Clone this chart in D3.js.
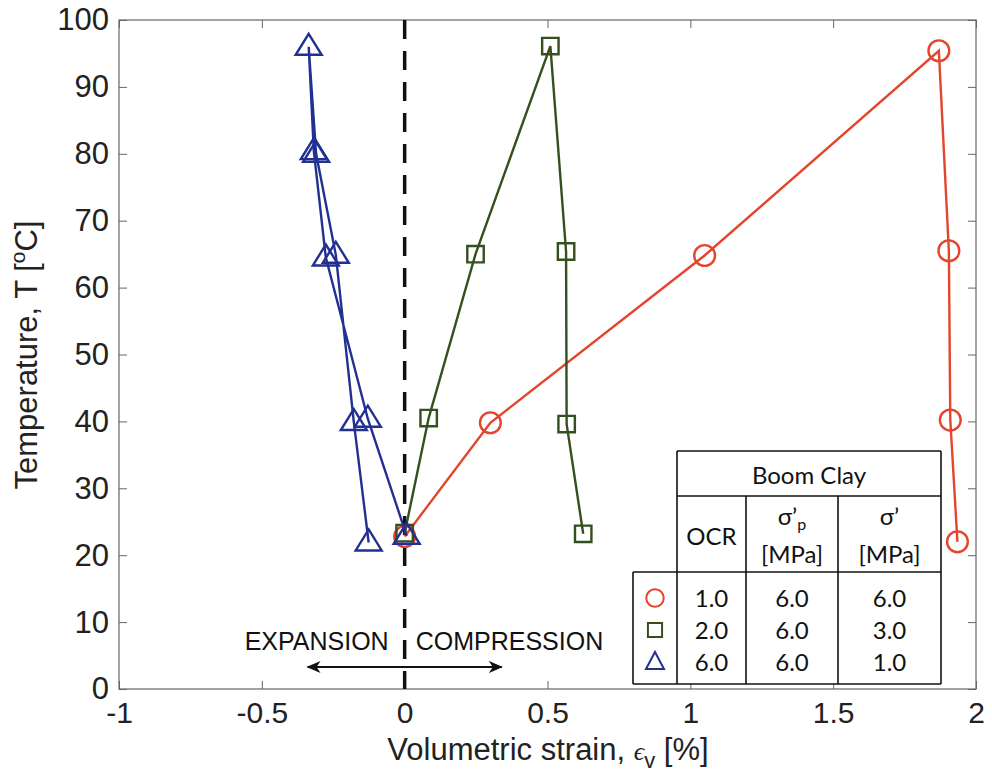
<!DOCTYPE html>
<html lang="en">
<head>
  <meta charset="UTF-8" />
  <title>Boom Clay thermal volumetric strain</title>
  <script src="https://d3js.org/d3.v7.min.js"></script>
  <style>
    body {
      background-color: white;
      margin: 0;
      font-family: "Liberation Sans", Arial, sans-serif;
    }

    svg {
      display: block;
    }

    .tick text {
      font-size: 30px;
      fill: #222;
      font-family: "Liberation Sans", Arial, sans-serif;
    }

    .tick line {
      stroke: #666;
    }

    .table text {
      font-family: Lato, "Open Sans", sans-serif;
      font-size: 24px;
      fill: #111;
    }
  </style>
</head>
<body>
  <svg></svg>

  <script>
    // OCR = 1.0 (red circles)
    const ocr1Strain = [0.0, 0.30, 1.05, 1.87, 1.905, 1.91, 1.935];
    const ocr1Temp   = [22.8, 39.8, 64.8, 95.4, 65.5, 40.2, 22.0];

    // OCR = 2.0 (green squares)
    const ocr2Strain = [0.0, 0.084, 0.248, 0.51, 0.565, 0.567, 0.625];
    const ocr2Temp   = [23.3, 40.5, 65.0, 96.1, 65.4, 39.6, 23.2];

    // OCR = 6.0 (blue triangles)
    const ocr6Strain = [0.007, -0.129, -0.276, -0.318, -0.336, -0.31, -0.241, -0.178, -0.126];
    const ocr6Temp   = [22.9, 40.4, 64.5, 80.4, 96.0, 80.0, 64.9, 39.9, 21.9];

    const xTicks = [-1, -0.5, 0, 0.5, 1, 1.5, 2];
    const yTicks = [0, 10, 20, 30, 40, 50, 60, 70, 80, 90, 100];

    // legend table
    const ocrValues = ["1.0", "2.0", "6.0"];
    const preconValues = ["6.0", "6.0", "6.0"];
    const stressValues = ["6.0", "3.0", "1.0"];

    const width = 992;
    const height = 777;
    const margin = {left: 119, top: 20, right: 16, bottom: 88};

    const svg = d3.select("svg")
      .attr("width", width)
      .attr("height", height);

    const x = d3.scaleLinear().domain([-1, 2]).range([margin.left, width - margin.right]);
    const y = d3.scaleLinear().domain([0, 100]).range([height - margin.bottom, margin.top]);

    // axes (inward ticks, box on all sides)
    svg.append("g")
      .attr("transform", `translate(0,${y(0)})`)
      .call(d3.axisBottom(x).tickValues(xTicks).tickSizeInner(-8).tickSizeOuter(0)
        .tickPadding(13).tickFormat(d => String(d)))
      .call(g => g.select(".domain").remove());

    svg.append("g")
      .attr("transform", `translate(${x(-1)},0)`)
      .call(d3.axisLeft(y).tickValues(yTicks).tickSizeInner(-8).tickSizeOuter(0)
        .tickPadding(10).tickFormat(d => String(d)))
      .call(g => g.select(".domain").remove())
      .selectAll(".tick text").style("font-size", "31px");

    svg.append("g")
      .attr("transform", `translate(0,${y(100)})`)
      .call(d3.axisTop(x).tickValues(xTicks).tickSizeInner(-8).tickSizeOuter(0).tickFormat(""))
      .call(g => g.select(".domain").remove());

    svg.append("g")
      .attr("transform", `translate(${x(2)},0)`)
      .call(d3.axisRight(y).tickValues(yTicks).tickSizeInner(-8).tickSizeOuter(0).tickFormat(""))
      .call(g => g.select(".domain").remove());

    svg.append("rect")
      .attr("x", x(-1))
      .attr("y", y(100))
      .attr("width", x(2) - x(-1))
      .attr("height", y(0) - y(100))
      .attr("fill", "none")
      .attr("stroke", "#666")
      .attr("stroke-width", 1.2);

    // axis titles
    const xTitle = svg.append("text")
      .attr("x", 548)
      .attr("y", 760)
      .attr("text-anchor", "middle")
      .attr("font-size", 31)
      .attr("fill", "#222");
    xTitle.append("tspan").text("Volumetric strain, ");
    xTitle.append("tspan")
      .attr("font-family", "'Liberation Serif', serif")
      .attr("font-style", "italic")
      .attr("font-size", 26)
      .text("\u03F5");
    xTitle.append("tspan")
      .attr("font-size", 22)
      .attr("dy", 8)
      .text("v");
    xTitle.append("tspan")
      .attr("dy", -8)
      .text(" [%]");

    const yTitle = svg.append("text")
      .attr("transform", `translate(37,${355}) rotate(-90)`)
      .attr("text-anchor", "middle")
      .attr("font-size", 31)
      .attr("fill", "#222");
    yTitle.append("tspan").text("Temperature, T [");
    yTitle.append("tspan")
      .attr("font-size", 21)
      .attr("dy", -12)
      .text("o");
    yTitle.append("tspan")
      .attr("dy", 12)
      .text("C]");

    // zero strain dashed line
    svg.append("line")
      .attr("x1", x(0)).attr("x2", x(0))
      .attr("y1", y(100)).attr("y2", y(0))
      .attr("stroke", "#111")
      .attr("stroke-width", 3.5)
      .attr("stroke-dasharray", "19,12");

    // expansion / compression annotation
    svg.append("text")
      .attr("x", x(0) - 16)
      .attr("y", 650)
      .attr("text-anchor", "end")
      .attr("font-size", 25)
      .attr("fill", "#111")
      .text("EXPANSION");

    svg.append("text")
      .attr("x", x(0) + 11)
      .attr("y", 650)
      .attr("text-anchor", "start")
      .attr("font-size", 25)
      .attr("fill", "#111")
      .text("COMPRESSION");

    const defs = svg.append("defs");
    defs.append("marker")
      .attr("id", "arrow")
      .attr("viewBox", "0 -6 14 12")
      .attr("refX", 13)
      .attr("refY", 0)
      .attr("markerWidth", 14)
      .attr("markerHeight", 12)
      .attr("markerUnits", "userSpaceOnUse")
      .attr("orient", "auto-start-reverse")
      .append("path")
      .attr("d", "M0,-6 L14,0 L0,6 L4,0 Z")
      .attr("fill", "#111");

    svg.append("line")
      .attr("x1", x(-0.34)).attr("x2", x(0.34))
      .attr("y1", 667).attr("y2", 667)
      .attr("stroke", "#111")
      .attr("stroke-width", 1.8)
      .attr("marker-start", "url(#arrow)")
      .attr("marker-end", "url(#arrow)");

    // series
    const series = [
      {strain: ocr1Strain, temp: ocr1Temp, color: "#e3452d", shape: "circle"},
      {strain: ocr2Strain, temp: ocr2Temp, color: "#34501e", shape: "square"},
      {strain: ocr6Strain, temp: ocr6Temp, color: "#223092", shape: "triangle"}
    ];

    const symbolPath = {
      circle: d3.symbol(d3.symbolCircle, 340)(),
      square: d3.symbol(d3.symbolSquare, 270)(),
      triangle: "M0,-13 L13,8 L-13,8 Z"
    };

    const line = d3.line()
      .x(d => x(d[0]))
      .y(d => y(d[1]));

    series.forEach(s => {
      const pts = s.strain.map((v, i) => [v, s.temp[i]]);
      const g = svg.append("g");

      g.append("path")
        .datum(pts)
        .attr("d", line)
        .attr("fill", "none")
        .attr("stroke", s.color)
        .attr("stroke-width", 2.4);

      g.selectAll("path.mark")
        .data(pts)
        .enter().append("path")
        .attr("class", "mark")
        .attr("d", symbolPath[s.shape])
        .attr("transform", d => `translate(${x(d[0])},${y(d[1])})`)
        .attr("fill", "none")
        .attr("stroke", s.color)
        .attr("stroke-width", 2.4);
    });

    // legend table
    const colX = [633, 677, 746, 838, 941];
    const rowY = [451, 496, 572, 684];

    const table = svg.append("g").attr("class", "table");

    table.append("rect")
      .attr("x", colX[1]).attr("y", rowY[0])
      .attr("width", colX[4] - colX[1]).attr("height", rowY[2] - rowY[0])
      .attr("fill", "white");
    table.append("rect")
      .attr("x", colX[0]).attr("y", rowY[2])
      .attr("width", colX[4] - colX[0]).attr("height", rowY[3] - rowY[2])
      .attr("fill", "white");

    const tableLines = [
      [colX[1], rowY[0], colX[4], rowY[0]],
      [colX[1], rowY[1], colX[4], rowY[1]],
      [colX[0], rowY[2], colX[4], rowY[2]],
      [colX[0], rowY[3], colX[4], rowY[3]],
      [colX[0], rowY[2], colX[0], rowY[3]],
      [colX[1], rowY[0], colX[1], rowY[3]],
      [colX[2], rowY[1], colX[2], rowY[3]],
      [colX[3], rowY[1], colX[3], rowY[3]],
      [colX[4], rowY[0], colX[4], rowY[3]]
    ];

    table.selectAll("line")
      .data(tableLines)
      .enter().append("line")
      .attr("x1", d => d[0]).attr("y1", d => d[1])
      .attr("x2", d => d[2]).attr("y2", d => d[3])
      .attr("stroke", "#111")
      .attr("stroke-width", 1.6);

    table.append("text")
      .attr("x", (colX[1] + colX[4]) / 2)
      .attr("y", 484)
      .attr("text-anchor", "middle")
      .text("Boom Clay");

    table.append("text")
      .attr("x", (colX[1] + colX[2]) / 2)
      .attr("y", 545)
      .attr("text-anchor", "middle")
      .text("OCR");

    const hdr1 = table.append("text")
      .attr("x", (colX[2] + colX[3]) / 2)
      .attr("y", 525)
      .attr("text-anchor", "middle");
    hdr1.append("tspan").text("\u03C3\u2019");
    hdr1.append("tspan").attr("font-size", 16).attr("dy", 5).text("p");

    table.append("text")
      .attr("x", (colX[2] + colX[3]) / 2)
      .attr("y", 563)
      .attr("text-anchor", "middle")
      .text("[MPa]");

    table.append("text")
      .attr("x", (colX[3] + colX[4]) / 2)
      .attr("y", 525)
      .attr("text-anchor", "middle")
      .text("\u03C3\u2019");

    table.append("text")
      .attr("x", (colX[3] + colX[4]) / 2)
      .attr("y", 563)
      .attr("text-anchor", "middle")
      .text("[MPa]");

    const rowBase = [607, 639, 671];

    [ocrValues, preconValues, stressValues].forEach((col, c) => {
      table.selectAll(null)
        .data(col)
        .enter().append("text")
        .attr("x", (colX[c + 1] + colX[c + 2]) / 2)
        .attr("y", (d, i) => rowBase[i])
        .attr("text-anchor", "middle")
        .text(d => d);
    });

    const legendSymbol = {
      circle: d3.symbol(d3.symbolCircle, 240)(),
      square: d3.symbol(d3.symbolSquare, 200)(),
      triangle: "M0,-10 L9,7 L-9,7 Z"
    };

    table.selectAll("path.key")
      .data(series)
      .enter().append("path")
      .attr("class", "key")
      .attr("d", d => legendSymbol[d.shape])
      .attr("transform", (d, i) => `translate(655,${rowBase[i] - 9})`)
      .attr("fill", "none")
      .attr("stroke", d => d.color)
      .attr("stroke-width", 2);
  </script>
</body>
</html>
